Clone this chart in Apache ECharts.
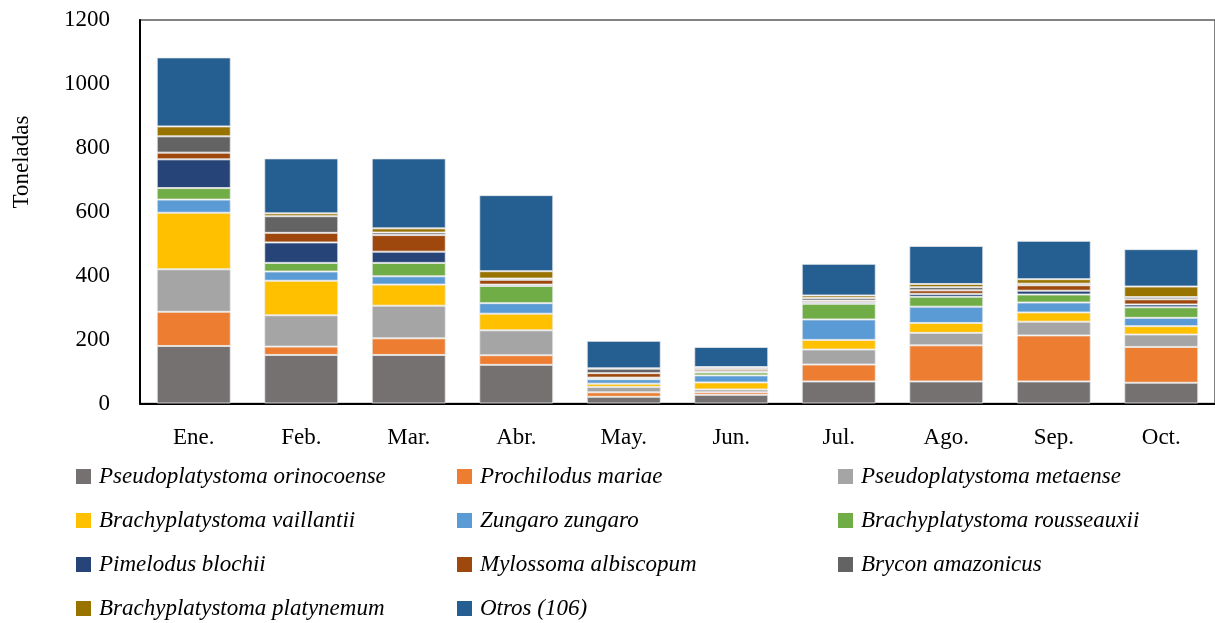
<!DOCTYPE html>
<html>
<head>
<meta charset="utf-8">
<script src="https://cdn.jsdelivr.net/npm/echarts@6/dist/echarts.min.js"></script>
<style>
html,body{margin:0;padding:0;background:#fff;}
#chart{width:1215px;height:623px;}
</style>
</head>
<body>
<div id="chart"></div>
<script>
var months = ['Ene.', 'Feb.', 'Mar.', 'Abr.', 'May.', 'Jun.', 'Jul.', 'Ago.', 'Sep.', 'Oct.'];
var yTicks = [0, 200, 400, 600, 800, 1000, 1200];

var orinocoense  = [180, 152, 152, 121, 21, 27, 69, 69, 69, 65];
var mariae       = [107, 26, 52, 30, 14, 8, 53, 113, 144, 112];
var metaense     = [133, 98, 102, 78, 17, 9, 47, 39, 43, 39];
var vaillantii   = [177, 108, 66, 52, 10, 22, 30, 31, 29, 26];
var zungaro      = [41, 29, 26, 33, 14, 22, 64, 51, 31, 26];
var rousseauxii  = [36, 27, 42, 54, 3, 9, 49, 31, 25, 33];
var blochii      = [90, 64, 35, 4, 2, 4, 5, 9, 12, 9];
var albiscopum   = [21, 30, 52, 15, 14, 7, 5, 11, 17, 16];
var amazonicus   = [51, 52, 8, 4, 14, 5, 8, 10, 5, 7];
var platynemum   = [31, 9, 13, 23, 1, 1, 8, 10, 14, 33];
var otros        = [216, 172, 219, 238, 86, 63, 99, 119, 120, 117];

var seriesDefs = [
  {name: 'Pseudoplatystoma orinocoense', data: orinocoense, color: '#767171'},
  {name: 'Prochilodus mariae', data: mariae, color: '#ED7D31'},
  {name: 'Pseudoplatystoma metaense', data: metaense, color: '#A5A5A5'},
  {name: 'Brachyplatystoma vaillantii', data: vaillantii, color: '#FFC000'},
  {name: 'Zungaro zungaro', data: zungaro, color: '#5B9BD5'},
  {name: 'Brachyplatystoma rousseauxii', data: rousseauxii, color: '#70AD47'},
  {name: 'Pimelodus blochii', data: blochii, color: '#264478'},
  {name: 'Mylossoma albiscopum', data: albiscopum, color: '#9E480E'},
  {name: 'Brycon amazonicus', data: amazonicus, color: '#636363'},
  {name: 'Brachyplatystoma platynemum', data: platynemum, color: '#997300'},
  {name: 'Otros (106)', data: otros, color: '#255E91'}
];

var FONT = 'Liberation Serif';

var legendCols = [
  {left: 76, names: ['Pseudoplatystoma orinocoense', 'Brachyplatystoma vaillantii', 'Pimelodus blochii', 'Brachyplatystoma platynemum']},
  {left: 457, names: ['Prochilodus mariae', 'Zungaro zungaro', 'Mylossoma albiscopum', 'Otros (106)']},
  {left: 838, names: ['Pseudoplatystoma metaense', 'Brachyplatystoma rousseauxii', 'Brycon amazonicus']}
];

var chart = echarts.init(document.getElementById('chart'), null, {renderer: 'canvas'});

var option = {
  animation: false,
  backgroundColor: '#fff',
  grid: {
    left: 140, top: 20, width: 1080, height: 383.5,
    show: true, borderColor: '#595959', borderWidth: 1.5, backgroundColor: 'transparent'
  },
  legend: legendCols.map(function (c) {
    return {
      orient: 'vertical',
      left: c.left,
      top: 465,
      height: 160,
      padding: 0,
      itemWidth: 15,
      itemHeight: 15,
      itemGap: 21,
      icon: 'rect',
      data: c.names,
      itemStyle: {borderWidth: 0},
      textStyle: {fontFamily: FONT, fontStyle: 'italic', fontSize: 23, color: '#000', lineHeight: 23, padding: [0, 0, 0, 3]},
      selectedMode: false
    };
  }),
  xAxis: {
    type: 'category',
    data: months,
    axisLine: {lineStyle: {color: '#000', width: 2}},
    axisTick: {show: false},
    axisLabel: {fontFamily: FONT, fontSize: 23, color: '#000', margin: 23}
  },
  yAxis: {
    type: 'value',
    min: 0, max: 1200, interval: 200,
    axisLine: {show: true, lineStyle: {color: '#000', width: 2}},
    axisTick: {show: false},
    splitLine: {show: false},
    axisLabel: {fontFamily: FONT, fontSize: 23, color: '#000', margin: 30,
      formatter: function (v) { return yTicks.indexOf(v) >= 0 ? String(v) : ''; }}
  },
  graphic: [{
    type: 'text',
    x: 22, y: 162,
    rotation: Math.PI / 2,
    style: {text: 'Toneladas', font: '23px "' + FONT + '"', fill: '#000', textAlign: 'center', textVerticalAlign: 'middle'}
  }],
  series: seriesDefs.map(function (s) {
    return {
      name: s.name,
      type: 'bar',
      stack: 'total',
      barWidth: 74,
      data: s.data,
      itemStyle: {color: s.color, borderColor: 'rgba(235,235,235,0.8)', borderWidth: 1}
    };
  })
};
chart.setOption(option);
</script>
</body>
</html>
